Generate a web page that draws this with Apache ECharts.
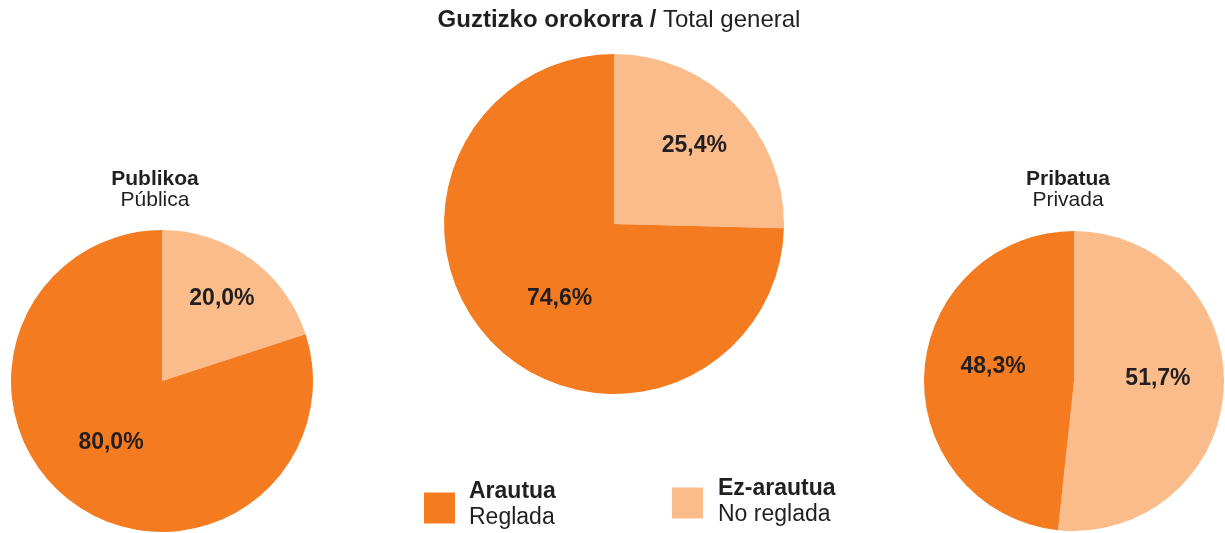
<!DOCTYPE html>
<html>
<head>
<meta charset="utf-8">
<script src="https://cdn.jsdelivr.net/npm/echarts@6/dist/echarts.min.js"></script>
<style>
html, body { margin: 0; padding: 0; background: #fff; }
#chart { width: 1225px; height: 533px; }
</style>
</head>
<body>
<div id="chart"></div>
<script>
  // data
  const categories = ['Ez-arautua', 'Arautua']
  const categoriesEs = ['No reglada', 'Reglada']
  const publicaValues = [20.0, 80.0]
  const totalValues = [25.4, 74.6]
  const privadaValues = [51.7, 48.3]
  const mainTitle = ['Guztizko orokorra /', 'Total general']
  const publicaTitle = ['Publikoa', 'Pública']
  const privadaTitle = ['Pribatua', 'Privada']

  // styles
  const FONT = '"Liberation Sans", Arial, Helvetica, sans-serif'
  const TEXT = '#231F20'
  const sliceColors = ['#FABC8B', '#F47B20']

  // labelR: distance of the label from the centre (share of radius)
  // labelTurn: small turn (deg) off the slice's middle angle
  const pies = [
    { values: publicaValues, center: [162, 381], radius: 151, labelR: [0.675, 0.53], labelTurn: [0, 3.6] },
    { values: totalValues, center: [614, 224], radius: 170, labelR: [0.66, 0.545], labelTurn: [0, -9.8] },
    { values: privadaValues, center: [1074, 381], radius: 150, labelR: [0.56, 0.548], labelTurn: [-5, 6.8] }
  ]

  // label spot along the slice's middle angle (clockwise from 12 o'clock)
  function labelSpot(p, i) {
    const total = p.values.reduce((a, b) => a + b, 0)
    let before = 0
    for (let j = 0; j < i; j++) before += p.values[j]
    const a = (before + p.values[i] / 2) / total * 2 * Math.PI + p.labelTurn[i] * Math.PI / 180
    const d = p.labelR[i] * p.radius
    return { x: p.center[0] + d * Math.sin(a), y: p.center[1] - d * Math.cos(a) }
  }

  const pct = v => v.toFixed(1).replace('.', ',') + '%'

  const richTwo = (size, lh) => ({
    b: { fontFamily: FONT, fontWeight: 'bold', fontSize: size, lineHeight: lh, color: TEXT },
    n: { fontFamily: FONT, fontWeight: 'normal', fontSize: size, lineHeight: lh, color: TEXT }
  })

  const myChart = echarts.init(document.getElementById('chart'), null, { renderer: 'canvas' })

  const option = {
    animation: false,
    title: [
      {
        text: '{b|' + mainTitle[0] + '} {n|' + mainTitle[1] + '}',
        left: 619, top: 8, textAlign: 'center', padding: 0,
        textStyle: { fontFamily: FONT, fontSize: 24, lineHeight: 24, color: TEXT, rich: richTwo(24, 24) }
      },
      {
        text: '{b|' + publicaTitle[0] + '}\n{n|' + publicaTitle[1] + '}',
        left: 155, top: 169, textAlign: 'center', padding: 0,
        textStyle: { fontFamily: FONT, fontSize: 21, lineHeight: 21, color: TEXT, rich: richTwo(21, 21) }
      },
      {
        text: '{b|' + privadaTitle[0] + '}\n{n|' + privadaTitle[1] + '}',
        left: 1068, top: 169, textAlign: 'center', padding: 0,
        textStyle: { fontFamily: FONT, fontSize: 21, lineHeight: 21, color: TEXT, rich: richTwo(21, 21) }
      }
    ],
    legend: [
      {
        data: [categories[1]], left: 424, top: 480, padding: 0,
        icon: 'rect', itemWidth: 31, itemHeight: 31, selectedMode: false,
        itemStyle: { borderWidth: 0 },
        formatter: name => '{b|' + name + '}\n{n|' + categoriesEs[1] + '}',
        textStyle: { padding: [0, 0, 7, 9], rich: richTwo(23, 26) }
      },
      {
        data: [categories[0]], left: 672, top: 477, padding: 0,
        icon: 'rect', itemWidth: 31, itemHeight: 31, selectedMode: false,
        itemStyle: { borderWidth: 0 },
        formatter: name => '{b|' + name + '}\n{n|' + categoriesEs[0] + '}',
        textStyle: { padding: [0, 0, 3, 10], rich: richTwo(23, 26) }
      }
    ],
    series: pies.map((p, k) => ({
      type: 'pie',
      center: p.center,
      radius: p.radius,
      startAngle: 90,
      clockwise: true,
      silent: true,
      itemStyle: { borderWidth: 0 },
      label: {
        show: true,
        position: 'inside',
        formatter: params => pct(params.value),
        fontFamily: FONT,
        fontWeight: 'bold',
        fontSize: 23,
        color: TEXT
      },
      labelLine: { show: false },
      labelLayout: params => labelSpot(pies[k], params.dataIndex),
      data: categories.map((c, i) => ({
        name: c,
        value: p.values[i],
        itemStyle: { color: sliceColors[i] }
      }))
    }))
  }
  myChart.setOption(option)
</script>
</body>
</html>
